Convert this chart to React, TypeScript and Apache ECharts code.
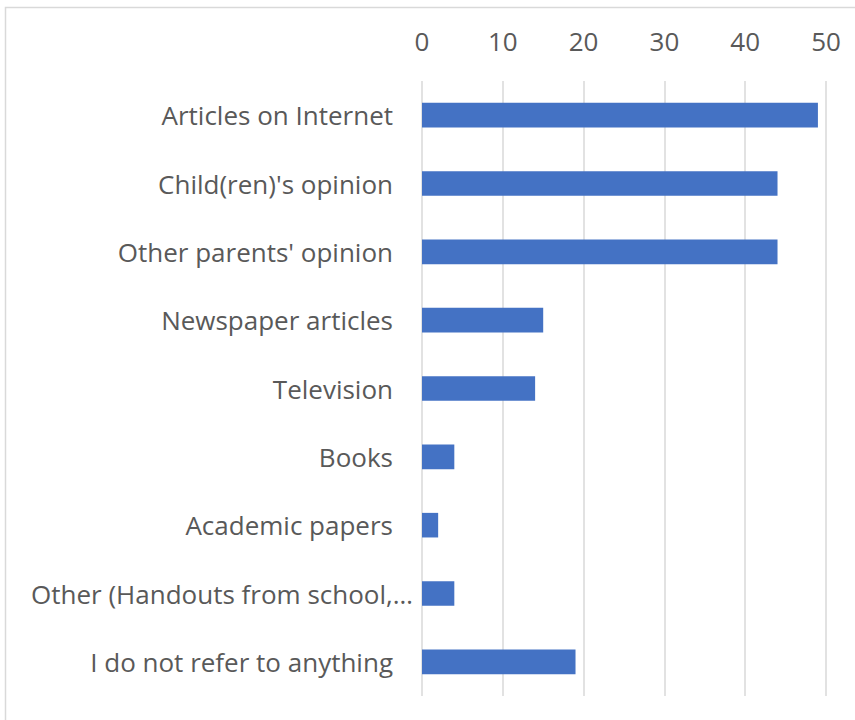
import React, { useEffect, useRef } from "react";
import * as echarts from "echarts";

const categories = [
  "Articles on Internet",
  "Child(ren)'s opinion",
  "Other parents' opinion",
  "Newspaper articles",
  "Television",
  "Books",
  "Academic papers",
  "Other (Handouts from school,…",
  "I do not refer to anything",
];
const values = [49, 44, 44, 15, 14, 4, 2, 4, 19];
const axisMin = 0;
const axisMax = 50;
const axisStep = 10;

export default function App() {
  const ref = useRef<HTMLDivElement>(null);
  useEffect(() => {
    document.body.style.margin = "0";
    const chart = echarts.init(ref.current!, null, { renderer: "svg" });
    const font = "'Open Sans', sans-serif";
    const labelStyle = { color: "#595959", fontSize: 26, fontFamily: font };
    chart.setOption({
      animation: false,
      backgroundColor: "#ffffff",
      graphic: [
        {
          type: "rect",
          shape: { x: 5.5, y: 7.5, width: 900, height: 800 },
          style: { fill: "none", stroke: "#d9d9d9", lineWidth: 1.5 },
          silent: true,
        },
      ],
      grid: { left: 422, right: 29, top: 81, bottom: 24, containLabel: false },
      xAxis: {
        type: "value",
        position: "top",
        min: axisMin,
        max: axisMax,
        interval: axisStep,
        axisLine: { show: false },
        axisTick: { show: false },
        splitLine: { show: true, lineStyle: { color: "#d9d9d9", width: 1.5 } },
        axisLabel: { ...labelStyle, margin: 27 },
      },
      yAxis: {
        type: "category",
        data: categories,
        inverse: true,
        axisLine: { show: false },
        axisTick: { show: false },
        axisLabel: {
          ...labelStyle,
          margin: 9,
          formatter: (v: string) => (v.endsWith("…") ? `{o|${v}}` : `{n|${v}}`),
          rich: {
            n: { ...labelStyle, padding: [0, 20, 0, 0] },
            o: { ...labelStyle },
          },
        },
      },
      series: [
        {
          type: "bar",
          data: values,
          barWidth: "36%",
          itemStyle: { color: "#4472C4" },
        },
      ],
    });
    return () => chart.dispose();
  }, []);
  return <div ref={ref} style={{ width: 855, height: 720 }} />;
}
